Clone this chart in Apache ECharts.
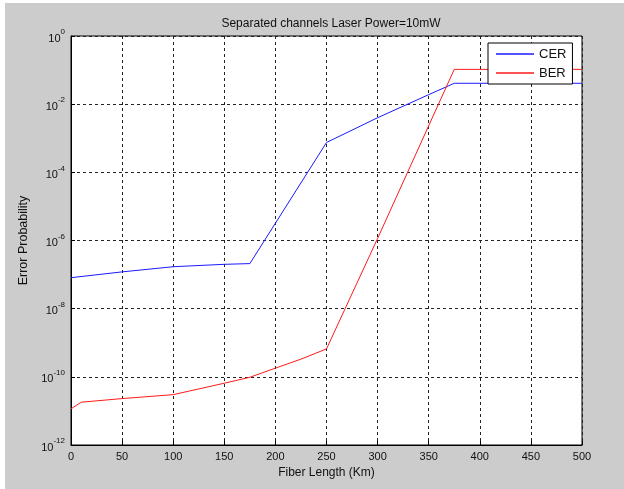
<!DOCTYPE html>
<html>
<head>
<meta charset="utf-8">
<script src="https://cdn.jsdelivr.net/npm/echarts@6/dist/echarts.min.js"></script>
<style>
  html, body { margin: 0; padding: 0; background: #ffffff; }
  #graph { position: absolute; left: 5px; top: 3px; width: 619px; height: 486px; }
</style>
</head>
<body>
<div id="graph"></div>
<script>
// fiber length (km) and error probabilities
var cerX = [0, 50, 100, 150, 175, 250, 300, 350, 375, 500];
var cerY = [8.1e-8, 1.2e-7, 1.7e-7, 2.0e-7, 2.1e-7, 7.5e-4, 4e-3, 1.9e-2, 4.1e-2, 4.1e-2];

var berX = [0, 10, 50, 100, 150, 175, 200, 225, 250, 300, 375, 500];
var berY = [1.15e-11, 1.8e-11, 2.3e-11, 3.0e-11, 6.5e-11, 9.7e-11, 1.8e-10, 3.3e-10, 6.6e-10, 1.15e-6, 0.105, 0.105];

var xTicks = [0, 50, 100, 150, 200, 250, 300, 350, 400, 450, 500];

function pairs(xs, ys) {
  var out = [];
  for (var i = 0; i < xs.length; i++) out.push([xs[i], ys[i]]);
  return out;
}

var font = 'Liberation Sans';
var dom = document.getElementById('graph');
var myChart = echarts.init(dom);
var option = {
  animation: false,
  backgroundColor: '#cccccc',
  textStyle: { fontFamily: font },
  title: {
    text: 'Separated channels Laser Power=10mW',
    left: 321,
    top: 10,
    textAlign: 'center',
    textStyle: { fontFamily: font, fontSize: 12, fontWeight: 'normal', color: '#111' }
  },
  grid: {
    left: 66, top: 33, right: 42, bottom: 44,
    show: true, backgroundColor: '#ffffff', borderColor: '#000', borderWidth: 1
  },
  legend: {
    data: ['CER', 'BER'],
    orient: 'vertical',
    left: 483,
    top: 40,
    padding: [4, 6, 4, 8],
    itemGap: 5,
    icon: 'rect',
    itemWidth: 38,
    itemHeight: 1.5,
    backgroundColor: '#ffffff',
    borderColor: '#000',
    borderWidth: 1,
    borderRadius: 0,
    textStyle: { fontFamily: font, fontSize: 13, color: '#111', lineHeight: 14 }
  },
  xAxis: {
    type: 'value',
    min: 0, max: 500, interval: 50,
    name: 'Fiber Length (Km)',
    nameLocation: 'middle',
    nameGap: 18,
    nameTextStyle: { fontFamily: font, fontSize: 12, color: '#111' },
    axisLine: { lineStyle: { color: '#000', width: 1 } },
    axisTick: { inside: true, length: 4, lineStyle: { color: '#000' } },
    axisLabel: {
      margin: 6, fontFamily: font, fontSize: 11, color: '#111',
      formatter: function (v) { return xTicks.indexOf(v) >= 0 ? String(v) : ''; }
    },
    splitLine: { show: true, lineStyle: { color: '#222', type: [3, 3], width: 1 } }
  },
  yAxis: {
    type: 'log',
    logBase: 10,
    min: 1e-12, max: 1, interval: 2,
    name: 'Error Probability',
    nameLocation: 'middle',
    nameGap: 31,
    nameTextStyle: { fontFamily: font, fontSize: 12.5, color: '#111' },
    axisLine: { lineStyle: { color: '#000', width: 1 } },
    axisTick: { inside: true, length: 4, lineStyle: { color: '#000' } },
    axisLabel: {
      margin: 6,
      formatter: function (v) {
        var e = Math.round(Math.log10(v));
        return '{b|10}{s|' + e + '}';
      },
      rich: {
        b: { fontFamily: font, fontSize: 11, color: '#111', lineHeight: 16, verticalAlign: 'bottom' },
        s: { fontFamily: font, fontSize: 8, color: '#111', verticalAlign: 'top' }
      }
    },
    splitLine: { show: true, lineStyle: { color: '#222', type: [3, 3], width: 1 } }
  },
  series: [
    {
      name: 'CER', type: 'line', data: pairs(cerX, cerY),
      symbol: 'none', color: '#1a1aff',
      lineStyle: { width: 1, color: '#1a1aff' }
    },
    {
      name: 'BER', type: 'line', data: pairs(berX, berY),
      symbol: 'none', color: '#ff1a1a',
      lineStyle: { width: 1, color: '#ff1a1a' }
    }
  ]
};
myChart.setOption(option);
</script>
</body>
</html>
